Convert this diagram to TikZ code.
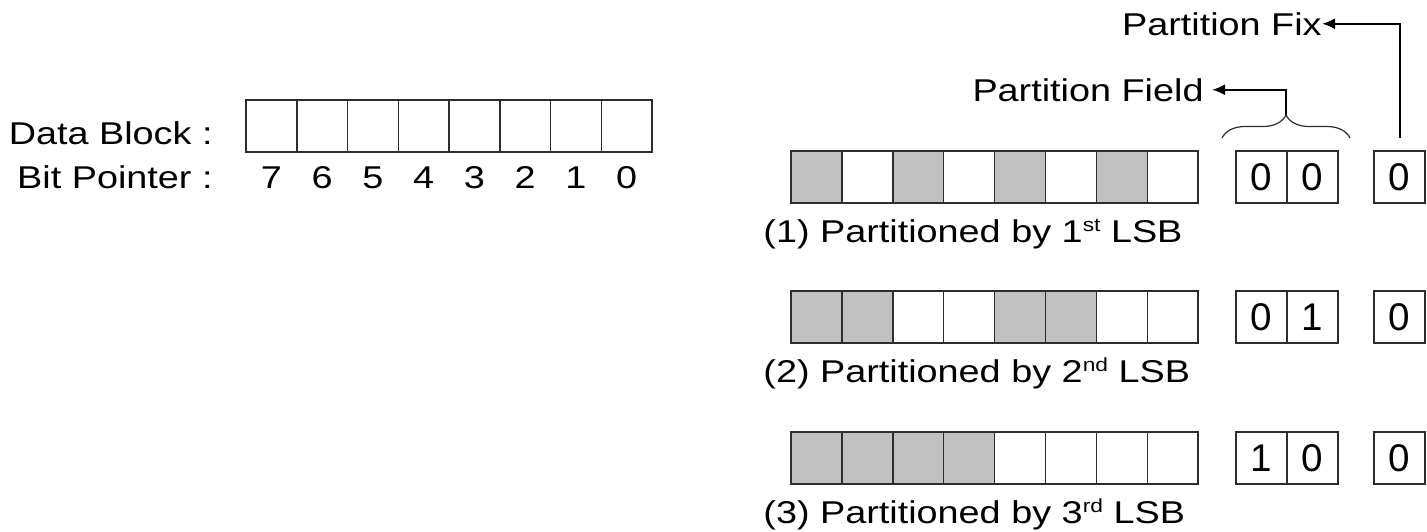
\documentclass[tikz,border=0pt]{standalone}
\usepackage{fontspec}
\setmainfont{Liberation Sans}[FakeStretch=1.2]
\newfontfamily\digitfont{Liberation Sans}
\usetikzlibrary{arrows.meta,decorations.pathreplacing}
\definecolor{shade}{RGB}{192,192,192}
\definecolor{edge}{RGB}{45,45,45}
\newcommand{\ordsup}[1]{\raisebox{5.5pt}{\fontsize{9.5pt}{10pt}\selectfont #1}}

\begin{document}
\begin{tikzpicture}[x=0.5pt,y=-0.5pt,
  txt/.style={inner sep=0pt, font=\fontsize{15.75pt}{18pt}\selectfont},
  cell/.style={draw=edge, line width=0.75pt, minimum width=25.45pt,
    minimum height=26pt, inner sep=0pt, outer sep=0pt, anchor=north west,
    font=\digitfont\fontsize{19.3pt}{22pt}\selectfont},
  filled/.style={cell, fill=shade},
  arr/.style={line width=1pt, -{Latex[length=6.5pt,width=5.5pt]}},
  bracestyle/.style={draw=edge, line width=0.6pt,
    decorate, decoration={brace, amplitude=11.5pt}}]
\useasboundingbox (0,0) rectangle (1427,531);

% data block with its bit pointer
\node[txt, anchor=base east] (dlabel) at (213,144) {Data Block :};
\node[txt, anchor=base east] (blabel) at (213,188) {Bit Pointer :};
\foreach \i [evaluate=\i as \n using int(7-\i)] in {0,...,7} {
  \node[cell] (d\i) at ({246+50.75*\i},100) {};
  \node[txt, anchor=base] (b\i) at ({246+50.75*(\i+0.5)},188) {\n};
}

% the three partitions, with partition field and partition fix
\foreach \r/\top/\ord/\fa/\fb in {1/151/st/0/0, 2/291/nd/0/1, 3/432/rd/1/0} {
  \foreach \i in {0,...,7} {
    \pgfmathtruncatemacro\sh{mod(floor(\i/2^(\r-1)),2)}
    \ifnum\sh=0
      \node[filled] (r\r c\i) at ({791+50.9*\i},\top) {};
    \else
      \node[cell] (r\r c\i) at ({791+50.9*\i},\top) {};
    \fi
  }
  \node[cell] (f\r a) at (1236,\top) {\fa};
  \node[cell] (f\r b) at (1287,\top) {\fb};
  \node[cell] (x\r) at (1374,\top) {0};
  \node[txt, anchor=base west] (cap\r) at (763,{\top+91})
    {(\r) Partitioned by \r\ordsup{\ord} LSB};
}

% labels and their pointers
\node[txt, anchor=base east] (fixlbl) at (1322,35) {Partition Fix};
\node[txt, inner xsep=4pt, anchor=base east] (fieldlbl) at (1212,101) {Partition Field};

\draw[bracestyle] (1222,138) -- (1350,138);
\coordinate (bracetip) at (1286,115);
\coordinate (fixstem) at (1400,138);

\draw[arr] (bracetip) |- (fieldlbl.east);
\draw[arr] (fixstem) |- (fixlbl.east);
\end{tikzpicture}
\end{document}
